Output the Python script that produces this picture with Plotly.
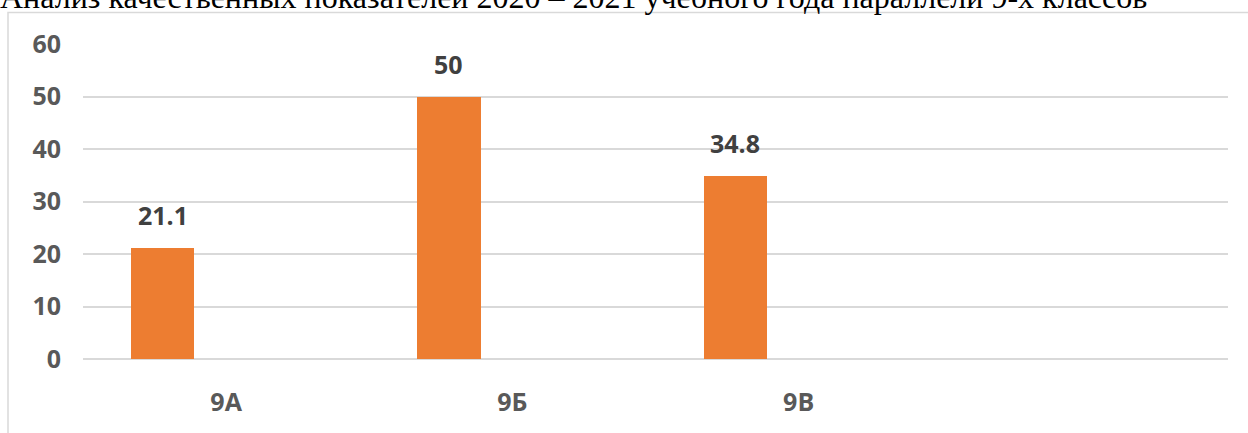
import plotly.graph_objects as go

title_text = "Анализ качественных показателей 2020 – 2021 учебного года параллели 9-х классов"
categories = ["9А", "9Б", "9В"]
values = [21.1, 50, 34.8]
y_ticks = [0, 10, 20, 30, 40, 50, 60]

W, H = 1248, 433
ML, MR, MT, MB = 83, 20, 44, 74
PW = W - ML - MR
PH = H - MT - MB

bar_width = 0.221
bar_offset = -0.332
orange = "#ED7D31"

fig = go.Figure()
fig.add_trace(go.Bar(
    x=categories, y=values,
    width=bar_width, offset=bar_offset,
    marker=dict(color=orange, line=dict(width=0)),
    hoverinfo="skip", showlegend=False,
))

for i, v in enumerate(values):
    fig.add_annotation(
        x=i + bar_offset + bar_width / 2, y=v, xref="x", yref="y",
        text=f"<b>{v:g}</b>", showarrow=False,
        yanchor="bottom", yshift=14,
        font=dict(family="Open Sans", size=25, color="#404040"),
    )

# outer frame (partly outside the window)
fig.add_shape(
    type="rect", xref="paper", yref="paper",
    x0=(8 - ML) / PW, x1=(W + 20 - ML) / PW,
    y0=-(H + 20 - MT - PH) / PH, y1=(PH + MT - 12.5) / PH,
    line=dict(color="#d9d9d9", width=1.5), layer="below",
)

fig.update_layout(
    width=W, height=H,
    margin=dict(l=ML, r=MR, t=MT, b=MB, pad=0),
    paper_bgcolor="white", plot_bgcolor="white",
    title=dict(
        text=title_text, xref="container", yref="container",
        x=0, y=1 - 8 / H, xanchor="left", yanchor="bottom",
        pad=dict(l=0, r=0, t=0, b=0),
        font=dict(family="Liberation Serif", size=32, color="black"),
    ),
    xaxis=dict(
        type="category", range=[-0.5, 3.5],
        showgrid=False, zeroline=False, showline=False,
        ticks="", ticklabelstandoff=26,
        tickfont=dict(family="Open Sans", size=25, color="#595959", weight="bold"),
        fixedrange=True,
    ),
    yaxis=dict(
        range=[0, 60], tickvals=y_ticks,
        showgrid=True, gridcolor="#d9d9d9", gridwidth=1.5,
        zeroline=True, zerolinecolor="#d9d9d9", zerolinewidth=1.5,
        showline=False, ticks="", ticklabelstandoff=21,
        tickfont=dict(family="Open Sans", size=25, color="#595959", weight="bold"),
        fixedrange=True,
    ),
    bargap=0,
)

fig.write_html(
    "out.html",
    config=dict(displayModeBar=False),
    post_script="document.body.style.margin='0';document.body.style.overflow='hidden';",
)
